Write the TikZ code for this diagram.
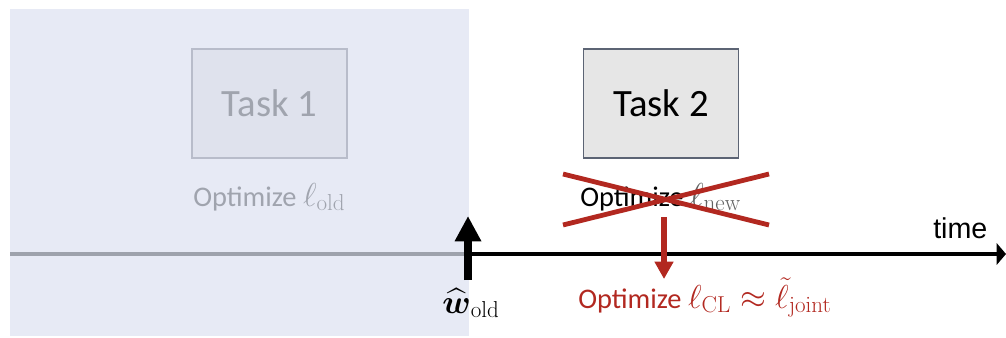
\documentclass[tikz,border=0pt]{standalone}
\usepackage{amsmath}
\usepackage[no-math]{fontspec}
\setmainfont{Carlito}
\newfontfamily\arialfont{Liberation Sans}
\usetikzlibrary{arrows.meta}

\definecolor{pastbg}{RGB}{231,234,245}
\definecolor{oldfill}{RGB}{223,226,237}
\definecolor{olddraw}{RGB}{184,188,202}
\definecolor{oldtext}{RGB}{160,164,174}
\definecolor{oldline}{RGB}{158,162,172}
\definecolor{newfill}{RGB}{230,230,230}
\definecolor{newdraw}{RGB}{92,100,116}
\definecolor{crossred}{RGB}{178,40,32}

% math set a little larger than the surrounding text
\newcommand{\bigmath}[1]{{\fontsize{24.5}{27}\selectfont$#1$}}

\tikzset{
  taskbox/.style={draw, line width=1.2pt, minimum width=116.25pt, minimum height=81.75pt,
    inner sep=0pt, font=\fontsize{29}{33}\selectfont},
  oldtask/.style={taskbox, fill=oldfill, draw=olddraw, text=oldtext},
  newtask/.style={taskbox, fill=newfill, draw=newdraw, text=black},
  caption/.style={anchor=base west, inner sep=0pt, font=\fontsize{21.3}{24}\selectfont},
  axisline/.style={line width=3pt},
  crossline/.style={crossred, line width=3.6pt},
}

\begin{document}
\begin{tikzpicture}[x=0.75pt, y=-0.75pt]
  \useasboundingbox (0,0) rectangle (1006,337);

  % region of the earlier task
  \fill[pastbg] (10,9) rectangle (469,336);

  % task boxes
  \node[oldtask] (task1) at (269.5,103.5) {Task 1};
  \node[newtask] (task2) at (661,103.5) {Task 2};

  % objectives
  \node[caption, text=oldtext] (optold) at (193,206)
    {Optimize \bigmath{\ell_{\mathrm{old}}}};
  \node[caption, text=black] (optnew) at (580,206)
    {Optimize \textcolor{black!62}{\bigmath{\ell_{\mathrm{new}}}}};

  % time axis
  \coordinate (tstart) at (10,254);
  \coordinate (tsplit) at (469,254);
  \coordinate (tend) at (1006,254);
  \draw[axisline, oldline] (tstart) -- (tsplit);
  \draw[axisline, black, -{Triangle[width=16pt, length=7pt]}] (tsplit) -- (tend);
  \node[anchor=base west, inner sep=0pt, font=\arialfont\fontsize{21.5}{24}\selectfont]
    (timelbl) at (933,238) {time};

  % parameters handed over from the earlier task
  \coordinate (wbot) at (468,280);
  \coordinate (wtop) at (468,216);
  \draw[line width=6pt, black, -{Triangle[width=18.75pt, length=19pt]}] (wbot) -- (wtop);
  \node[anchor=base west, inner sep=0pt, font=\fontsize{23.5}{26}\selectfont]
    (wold) at (442,313) {$\widehat{\boldsymbol{w}}_{\mathrm{old}}$};

  % crossed-out objective
  \coordinate (c1) at (563,174);
  \coordinate (c2) at (769,225);
  \coordinate (c3) at (563,225);
  \coordinate (c4) at (769,174);
  \draw[crossline] (c1) -- (c2);
  \draw[crossline] (c3) -- (c4);

  % replacement objective
  \coordinate (rtop) at (664,217);
  \coordinate (rbot) at (664,279);
  \draw[crossred, line width=4.5pt, -{Triangle[width=13.5pt, length=13pt]}] (rtop) -- (rbot);
  \node[caption, text=crossred] (optcl) at (578,308)
    {Optimize \bigmath{\ell_{\mathrm{CL}} \approx \tilde{\ell}_{\mathrm{joint}}}};
\end{tikzpicture}
\end{document}
